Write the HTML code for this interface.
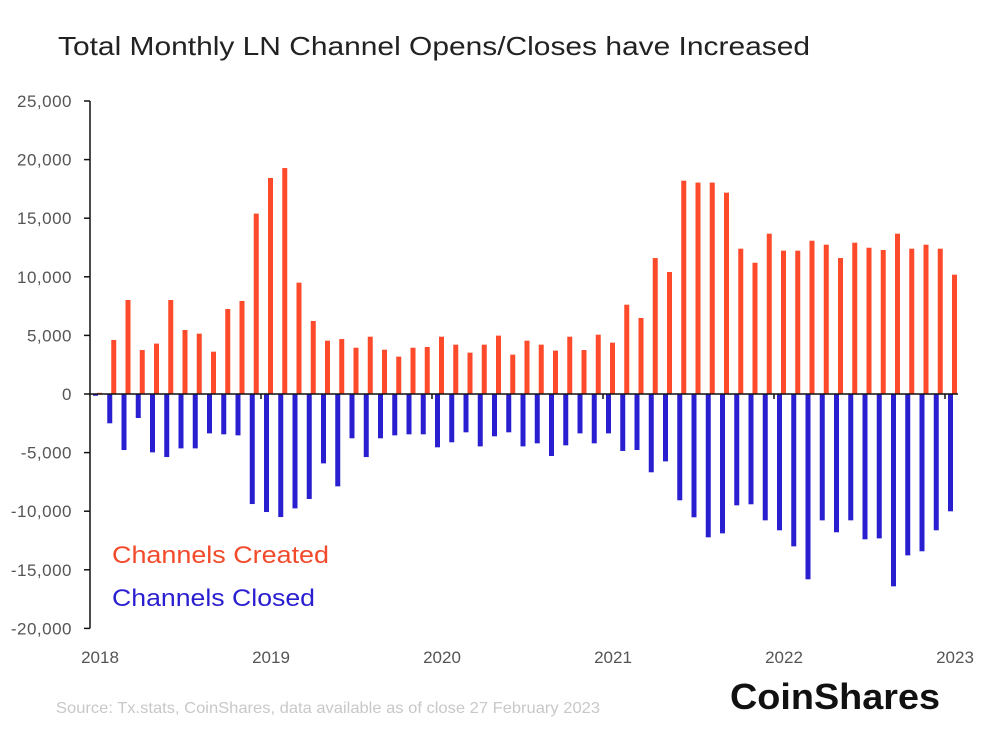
<!DOCTYPE html>
<html><head><meta charset="utf-8">
<style>
html,body{margin:0;padding:0;background:#fff;}
body{width:981px;height:731px;overflow:hidden;position:relative;font-family:"Liberation Sans",sans-serif;}
svg{position:absolute;left:0;top:0;}
</style></head>
<body>
<svg width="981" height="731" viewBox="0 0 981 731">
<text x="58" y="55" font-size="26" fill="#222" textLength="752" lengthAdjust="spacingAndGlyphs">Total Monthly LN Channel Opens/Closes have Increased</text>
<g id="yaxis"></g>
<g id="bars"></g>
<g id="xaxis"></g>
<text x="112" y="563" font-size="24" fill="#f24a2a" textLength="217" lengthAdjust="spacingAndGlyphs">Channels Created</text>
<text x="112" y="606" font-size="24" fill="#2a1fd0" textLength="203" lengthAdjust="spacingAndGlyphs">Channels Closed</text>
<text x="56" y="713" font-size="16" fill="#c8c8c8" textLength="544" lengthAdjust="spacingAndGlyphs">Source: Tx.stats, CoinShares, data available as of close 27 February 2023</text>
<text x="730" y="709" font-size="36" font-weight="bold" fill="#111" textLength="210" lengthAdjust="spacingAndGlyphs">CoinShares</text>
</svg>
<script>
const yTicks = [25000,20000,15000,10000,5000,0,-5000,-10000,-15000,-20000];
const yearLabels = ["2018","2019","2020","2021","2022","2023"];
const created = [100,4610,8020,3750,4300,8020,5460,5150,3610,7250,7940,15390,
18430,19280,9500,6230,4550,4690,3950,4890,3780,3190,3950,4010,
4890,4210,3530,4210,4980,3360,4550,4210,3700,4890,3750,5060,
4380,7620,6490,11600,10410,18200,18040,18040,17180,12400,11200,13680,
12230,12230,13080,12740,11600,12910,12480,12290,13680,12400,12740,12400,
10180];
const closed = [-150,-2500,-4780,-2050,-4980,-5380,-4640,-4640,-3360,-3440,-3530,-9390,
-10070,-10500,-9760,-8960,-5920,-7880,-3780,-5380,-3780,-3530,-3440,-3440,
-4550,-4120,-3270,-4470,-3610,-3270,-4470,-4210,-5290,-4380,-3360,-4210,
-3360,-4860,-4780,-6680,-5750,-9070,-10520,-12230,-11890,-9500,-9410,-10780,
-11630,-13000,-15810,-10780,-11800,-10780,-12400,-12320,-16410,-13770,-13420,-11630,
-10010];
const NS='http://www.w3.org/2000/svg';
const y0=394, pxPer=58.6/5000;
const yS=v=>y0-v*pxPer;
const axX=90, month=14.25;
const xS=i=>axX+i*month;
function mk(tag,attrs,parent){const e=document.createElementNS(NS,tag);for(const k in attrs)e.setAttribute(k,attrs[k]);parent.appendChild(e);return e;}
const ya=document.getElementById('yaxis'), xa=document.getElementById('xaxis'), bg=document.getElementById('bars');
mk('line',{x1:axX,x2:axX,y1:yS(25000),y2:yS(-20000),stroke:'#111','stroke-width':1.5},ya);
yTicks.forEach(v=>{
  const l=mk('line',{x1:axX-6,x2:axX,y1:yS(v),y2:yS(v),stroke:'#111','stroke-width':1.5},ya);
  
  
  const t=mk('text',{x:72,y:yS(v)+6,'text-anchor':'end','font-size':17,fill:'#555','letter-spacing':0.5},ya);
  t.textContent=v.toLocaleString('en-US');
  
  
});
created.forEach((v,i)=>{
  const r=mk('rect',{x:xS(i)+7,y:yS(Math.max(v,0)),width:5,height:Math.abs(v)*pxPer,fill:'#fd4a2b'},bg);
  
  
});
closed.forEach((v,i)=>{
  const r=mk('rect',{x:xS(i)+3,y:yS(Math.max(v,0)),width:5,height:Math.abs(v)*pxPer,fill:'#2a1fd0'},bg);
  
  
});
mk('line',{x1:axX,x2:xS(created.length-1)+13,y1:y0,y2:y0,stroke:'#111','stroke-width':1.5},xa);
yearLabels.forEach((s,k)=>{
  const tx=xS(k*12);
  if(k>0){const tk=mk('line',{x1:tx,x2:tx,y1:y0,y2:y0+5,stroke:'#111','stroke-width':1.5},xa);
  
  }
  const t=mk('text',{x:tx+10,y:663,'text-anchor':'middle','font-size':17,fill:'#555'},xa);
  t.textContent=s;
  
  
});
</script>
</body></html>
